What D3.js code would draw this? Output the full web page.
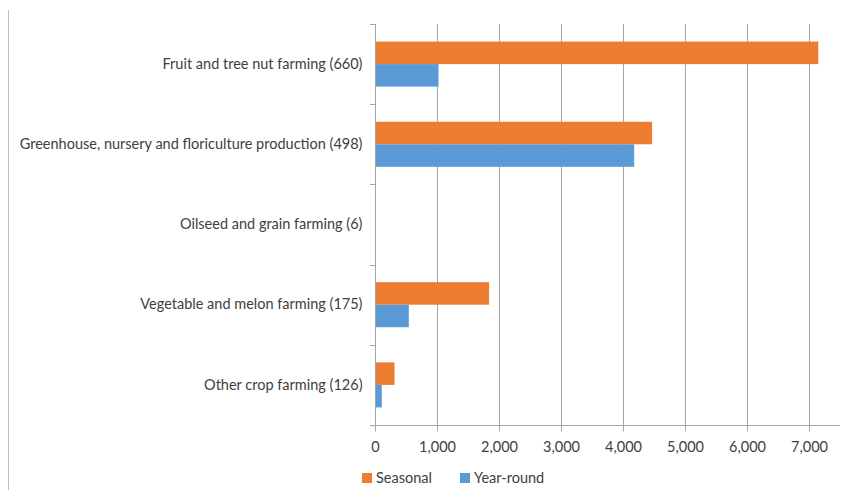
<!DOCTYPE html>
<html>
<head>
<meta charset="utf-8">
<script src="https://cdn.jsdelivr.net/npm/d3@7"></script>
<style>
  body { margin: 0; background: #fff; }
  text { font-family: Lato, "Open Sans", sans-serif; fill: #404040; }
</style>
</head>
<body>
<svg id="chart"></svg>
<script>
const categories = [
  "Fruit and tree nut farming (660)",
  "Greenhouse, nursery and floriculture production (498)",
  "Oilseed and grain farming (6)",
  "Vegetable and melon farming (175)",
  "Other crop farming (126)"
];
const series = ["Seasonal", "Year-round"];
const seasonal = [7150, 4470, 0, 1840, 315];
const yearRound = [1025, 4180, 0, 545, 110];
const xTicks = [0, 1000, 2000, 3000, 4000, 5000, 6000, 7000];
const colors = ["#ED7D31", "#5B9BD5"];

const width = 864;
const height = 498;

const svg = d3.select('#chart')
    .attr('width', width)
    .attr('height', height);

// frame line on the left
svg.append('line')
    .attr('x1', 8.5).attr('x2', 8.5)
    .attr('y1', 10).attr('y2', 490)
    .attr('stroke', '#bfbfbf');

const x = d3.scaleLinear().domain([0, 7500]).range([375, 840]);
const y = d3.scaleBand().domain(categories).range([24, 425]);
const ySeries = d3.scaleBand().domain(series)
    .range([0, y.bandwidth()])
    .paddingInner(0)
    .paddingOuter(0.78);

// gridlines
svg.append('g').selectAll('line')
  .data(xTicks.slice(1))
  .enter().append('line')
    .attr('x1', d => Math.round(x(d)) + 0.5)
    .attr('x2', d => Math.round(x(d)) + 0.5)
    .attr('y1', 24).attr('y2', 425)
    .attr('stroke', '#a6a6a6');

// bars
const rows = categories.map((c, i) => ({ cat: c, values: [seasonal[i], yearRound[i]] }));
const group = svg.append('g').selectAll('g')
  .data(rows)
  .enter().append('g')
    .attr('transform', d => 'translate(0,' + y(d.cat) + ')');

group.selectAll('rect')
  .data(d => d.values.map((v, j) => ({ s: series[j], v: v, j: j })))
  .enter().append('rect')
    .attr('x', x(0))
    .attr('y', d => ySeries(d.s))
    .attr('width', d => x(d.v) - x(0))
    .attr('height', ySeries.bandwidth())
    .attr('fill', d => colors[d.j]);

// x axis
const xAxis = svg.append('g')
    .attr('transform', 'translate(0,425.5)')
    .call(d3.axisBottom(x).tickValues(xTicks).tickSize(6).tickPadding(10)
      .tickFormat(d3.format(',')));
xAxis.select('.domain').attr('stroke', '#a6a6a6').attr('d', 'M370,0H840');
xAxis.selectAll('.tick line').attr('stroke', '#a6a6a6');
xAxis.selectAll('text').style('font-size', '14.5px').attr('fill', '#404040')
    .style('font-family', 'Lato, sans-serif');

// y axis
const yAxis = svg.append('g')
    .attr('transform', 'translate(375.5,0)')
    .call(d3.axisLeft(y).tickSize(0).tickPadding(13));
yAxis.select('.domain').attr('stroke', '#a6a6a6').attr('d', 'M0,24V425');
yAxis.selectAll('text').style('font-size', '14.5px').attr('fill', '#404040')
    .style('font-family', 'Lato, sans-serif');

// band boundary ticks
const bounds = categories.map(c => y(c)).concat([y.range()[1]]);
svg.append('g').selectAll('line')
  .data(bounds)
  .enter().append('line')
    .attr('x1', 370).attr('x2', 375)
    .attr('y1', d => Math.round(d) + 0.5)
    .attr('y2', d => Math.round(d) + 0.5)
    .attr('stroke', '#a6a6a6');

// legend
const legend = svg.append('g').selectAll('g')
  .data(series)
  .enter().append('g')
    .attr('transform', (d, i) => 'translate(' + [362, 460][i] + ',473)');
legend.append('rect')
    .attr('width', 10).attr('height', 10)
    .attr('fill', (d, i) => colors[i]);
legend.append('text')
    .attr('x', 14).attr('y', 10)
    .style('font-size', '14.5px')
    .text(d => d);
</script>
</body>
</html>
